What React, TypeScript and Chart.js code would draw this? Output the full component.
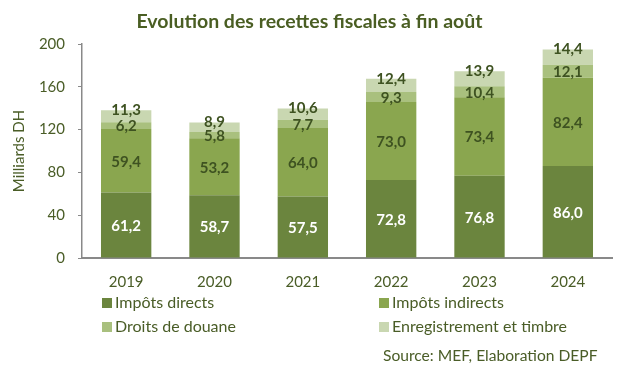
import React, { useEffect, useRef } from "react";
import { Chart, registerables } from "chart.js";

Chart.register(...registerables);

const title = "Evolution des recettes fiscales à fin août";
const yAxisTitle = "Milliards DH";
const sourceText = "Source: MEF, Elaboration DEPF";
const years = ["2019", "2020", "2021", "2022", "2023", "2024"];
const seriesNames = ["Impôts directs", "Impôts indirects", "Droits de douane", "Enregistrement et timbre"];
const impotsDirects = [61.2, 58.7, 57.5, 72.8, 76.8, 86.0];
const impotsIndirects = [59.4, 53.2, 64.0, 73.0, 73.4, 82.4];
const droitsDouane = [6.2, 5.8, 7.7, 9.3, 10.4, 12.1];
const enregistrement = [11.3, 8.9, 10.6, 12.4, 13.9, 14.4];
const seriesColors = ["#6b853e", "#8aa64f", "#a9c07e", "#c9d7b1"];
const labelColors = ["#ffffff", "#3e5221", "#3e5221", "#3e5221"];
const yTicks = [0, 40, 80, 120, 160, 200];

const TEXT = "#4a5d27";
const FONT = "Lato";

const fmt = (v: number) => v.toFixed(1).replace(".", ",");

const customDraw = {
  id: "customDraw",
  afterDatasetsDraw(chart: any) {
    const ctx = chart.ctx;
    ctx.save();
    const last = chart.data.datasets.length - 1;
    chart.data.datasets.forEach((ds: any, di: number) => {
      const meta = chart.getDatasetMeta(di);
      meta.data.forEach((el: any, i: number) => {
        const v = ds.data[i];
        const y = di === last ? el.y - 1 : (el.y + el.base) / 2;
        ctx.font = `bold 15px ${FONT}`;
        ctx.fillStyle = labelColors[di];
        ctx.textAlign = "center";
        ctx.textBaseline = "middle";
        ctx.fillText(fmt(v), el.x, y + 1);
      });
    });
    ctx.restore();
  },
  afterDraw(chart: any) {
    const ctx = chart.ctx;
    ctx.save();
    // title
    ctx.font = `bold 19.5px ${FONT}`;
    ctx.fillStyle = "#4a5e23";
    ctx.textAlign = "center";
    ctx.textBaseline = "middle";
    ctx.fillText(title, chart.width / 2, 22);
    // legend
    const cols = [102, 379];
    const rows = [303, 327];
    ctx.font = `16px ${FONT}`;
    ctx.textAlign = "left";
    seriesNames.forEach((name, i) => {
      const cx = cols[i % 2];
      const cy = rows[Math.floor(i / 2)];
      ctx.fillStyle = seriesColors[i];
      ctx.fillRect(cx, cy - 5, 10, 10);
      ctx.fillStyle = TEXT;
      ctx.fillText(name, cx + 13, cy);
    });
    // source
    ctx.font = `15.6px ${FONT}`;
    ctx.fillText(sourceText, 383, 356);
    ctx.restore();
  },
};

export default function App() {
  const ref = useRef<HTMLCanvasElement | null>(null);
  useEffect(() => {
    if (!ref.current) return;
    const data = [impotsDirects, impotsIndirects, droitsDouane, enregistrement];
    const chart = new Chart(ref.current, {
      type: "bar",
      data: {
        labels: years,
        datasets: seriesNames.map((n, i) => ({
          label: n,
          data: data[i],
          backgroundColor: seriesColors[i],
          borderWidth: 0,
          categoryPercentage: 0.57,
          barPercentage: 1,
        })),
      },
      options: {
        responsive: false,
        animation: false,
        devicePixelRatio: 1,
        layout: { padding: { top: 44, right: 7, bottom: 88, left: 0 } },
        plugins: {
          legend: { display: false },
          title: { display: false },
          tooltip: { enabled: false },
        },
        scales: {
          x: {
            stacked: true,
            grid: { display: false, drawTicks: false },
            border: { display: true, color: "#898989", width: 2 },
            ticks: { color: TEXT, font: { family: FONT, size: 15 }, padding: 15 },
            afterFit: (s: any) => { s.height = 30; },
          },
          y: {
            stacked: true,
            min: 0,
            max: 200,
            afterBuildTicks: (s: any) => { s.ticks = yTicks.map((v) => ({ value: v })); },
            grid: { display: true, drawOnChartArea: false, drawTicks: true, tickLength: 4, color: "#898989" },
            border: { display: true, color: "#898989", width: 1.5 },
            ticks: { color: TEXT, font: { family: FONT, size: 15 }, padding: 13 },
            title: { display: true, text: yAxisTitle, color: TEXT, font: { family: FONT, size: 15 }, padding: { top: 10, bottom: 0 } },
            afterFit: (s: any) => { s.width = 82; },
          },
        },
      },
      plugins: [customDraw],
    });
    return () => chart.destroy();
  }, []);
  return (
    <div style={{ position: "fixed", left: 0, top: 0, width: 619, height: 376, background: "#fff" }}>
      <canvas ref={ref} width={619} height={376} style={{ display: "block" }} />
    </div>
  );
}
